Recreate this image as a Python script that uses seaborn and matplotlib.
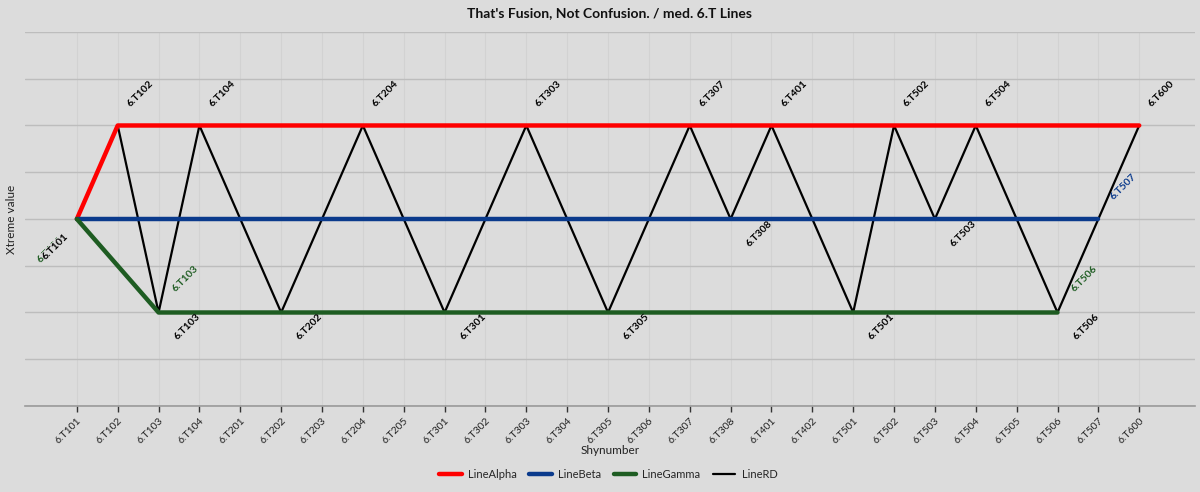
import matplotlib
matplotlib.use("Agg")
import matplotlib.pyplot as plt
import seaborn as sns
import pandas as pd

categories = ["6.T101", "6.T102", "6.T103", "6.T104", "6.T201", "6.T202", "6.T203",
              "6.T204", "6.T205", "6.T301", "6.T302", "6.T303", "6.T304", "6.T305",
              "6.T306", "6.T307", "6.T308", "6.T401", "6.T402", "6.T501", "6.T502",
              "6.T503", "6.T504", "6.T505", "6.T506", "6.T507", "6.T600"]

alpha_cats = ["6.T101", "6.T102", "6.T600"]
alpha_vals = [4, 6, 6]
beta_cats = ["6.T101", "6.T507"]
beta_vals = [4, 4]
gamma_cats = ["6.T101", "6.T103", "6.T506"]
gamma_vals = [4, 2, 2]
rd_cats = ["6.T101", "6.T102", "6.T103", "6.T104", "6.T202", "6.T204", "6.T301",
           "6.T303", "6.T305", "6.T307", "6.T308", "6.T401", "6.T501", "6.T502",
           "6.T503", "6.T504", "6.T506", "6.T600"]
rd_vals = [4, 6, 2, 6, 2, 6, 2, 6, 2, 6, 4, 6, 2, 6, 4, 6, 2, 6]

series_names = ["LineAlpha", "LineBeta", "LineGamma", "LineRD"]
series_colors = ["#ff0000", "#0a3a8c", "#1e5c22", "#000000"]
series_widths = [3.2, 3.2, 3.2, 1.6]

bg = "#dcdcdc"
sns.set_theme(style="whitegrid")
plt.rcParams["font.family"] = ["Lato", "DejaVu Sans"]

fig = plt.figure(figsize=(12, 4.92), dpi=100, facecolor=bg)
ax = fig.add_axes([0.0208, 0.1748, 0.9752, 0.7602])
ax.set_facecolor(bg)

frames = []
for name, cats, vals in [("LineAlpha", alpha_cats, alpha_vals),
                         ("LineBeta", beta_cats, beta_vals),
                         ("LineGamma", gamma_cats, gamma_vals),
                         ("LineRD", rd_cats, rd_vals)]:
    frames.append(pd.DataFrame({"x": [categories.index(c) for c in cats],
                                "y": vals, "series": name}))

for name, color, lw in zip(series_names, series_colors, series_widths):
    d = frames[series_names.index(name)]
    sns.lineplot(data=d, x="x", y="y", ax=ax, color=color, linewidth=lw,
                 sort=False, estimator=None, label=name,
                 zorder=2 if name == "LineRD" else 3)

def lookup(cats, vals, c):
    return vals[cats.index(c)]

fs = 7.5
common = dict(textcoords="offset pixels", rotation=45, rotation_mode="anchor",
              va="center", fontsize=fs, fontweight="bold")
for c, v in zip(rd_cats, rd_vals):
    xi = categories.index(c)
    if c == "6.T101":
        ax.annotate(c, (xi, v), xytext=(-15, -19), ha="right", color="#1e5c22",
                    zorder=4, **common)
        ax.annotate(c, (xi, v), xytext=(-10, -16), ha="right", color="black",
                    zorder=5, bbox=dict(boxstyle="square,pad=0.05", fc=bg, ec="none"),
                    **common)
    elif v == 6:
        ax.annotate(c, (xi, v), xytext=(11, 20), ha="left", color="black", **common)
    else:
        ax.annotate(c, (xi, v), xytext=(17, -26), ha="left", color="black", **common)

for c in ["6.T103", "6.T506"]:
    xi = categories.index(c)
    ax.annotate(c, (xi, lookup(gamma_cats, gamma_vals, c)), xytext=(15, 22),
                ha="left", color="#1e5c22", **common)
c = "6.T507"
ax.annotate(c, (categories.index(c), lookup(beta_cats, beta_vals, c)), xytext=(13, 21),
            ha="left", color="#0a3a8c", **common)

ax.set_xlim(-1.27, 27.37)
ax.set_ylim(0, 8)
ax.set_xticks(range(len(categories)))
ax.set_xticklabels(categories, rotation=45, ha="right", rotation_mode="anchor",
                   fontsize=7.5, color="#222222")
ax.set_yticks(range(0, 9))
ax.set_yticklabels([])
ax.tick_params(axis="x", length=4, width=1, color="#333333", pad=3, bottom=True)
ax.tick_params(axis="y", length=0)
ax.grid(axis="y", color="#bdbdbd", linewidth=1)
ax.grid(axis="x", color="#d2d2d2", linewidth=0.8)
for s in ["top", "right", "left"]:
    ax.spines[s].set_visible(False)
ax.spines["bottom"].set_color("#9a9a9a")
ax.spines["bottom"].set_linewidth(1.2)

ax.set_xlabel("Shynumber", fontsize=8.5, color="#222222", labelpad=0)
ax.set_ylabel("Xtreme value", fontsize=8.5, color="#222222")
ax.yaxis.set_label_coords(-0.007, 0.5)
fig.suptitle("That's Fusion, Not Confusion. / med. 6.T Lines", fontsize=10,
             fontweight="bold", y=0.985, x=0.508, color="#111111")

ax.legend_.remove()
handles, labels = ax.get_legend_handles_labels()
fig.legend(handles[:4], labels[:4], loc="center", bbox_to_anchor=(0.507, 0.036), ncol=4,
           frameon=False, fontsize=8, handlelength=2.0, columnspacing=1.1,
           handletextpad=0.6)

fig.savefig("out.png", dpi=100, facecolor=bg)
